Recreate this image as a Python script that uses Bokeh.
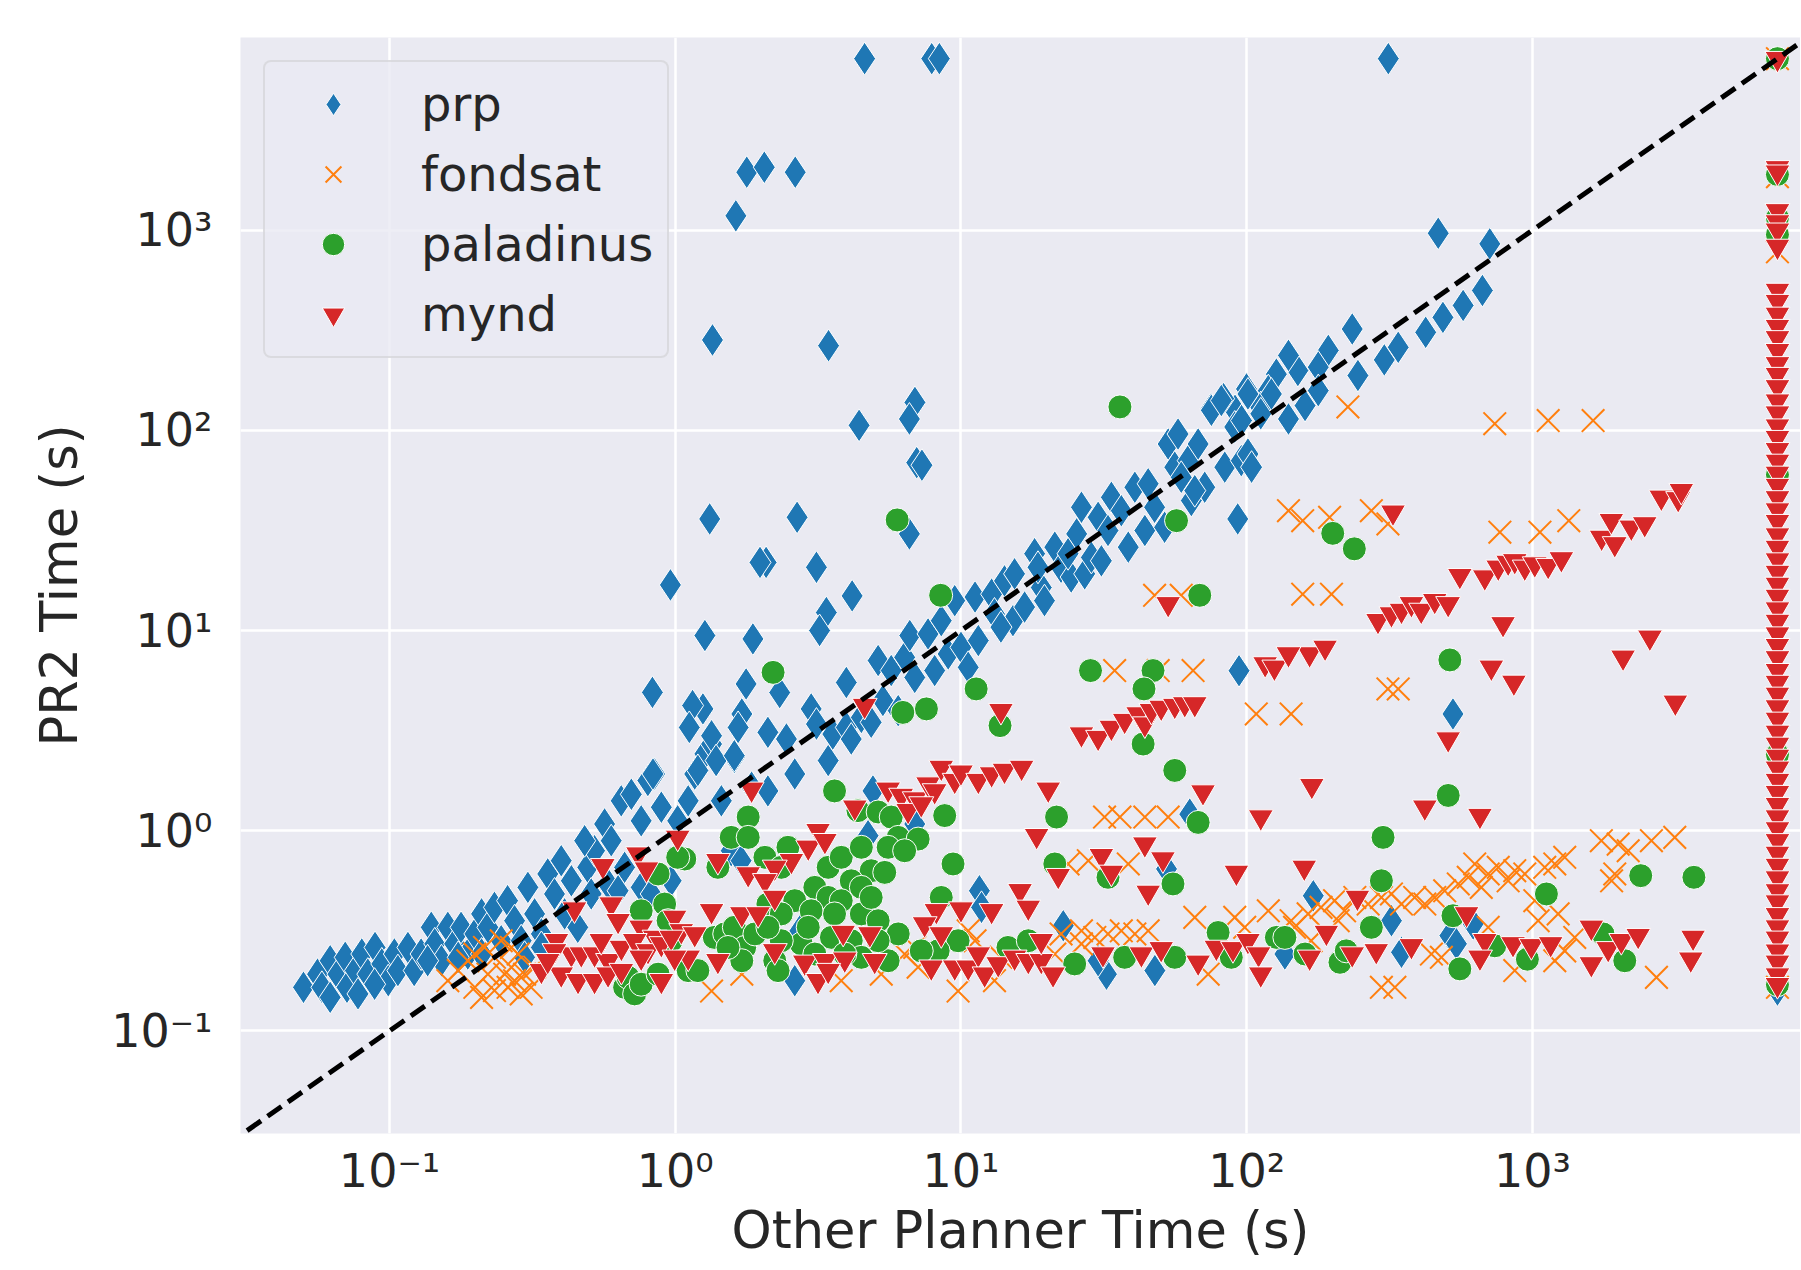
from bokeh.plotting import figure
from bokeh.models import Range1d, FixedTicker, CustomJSTickFormatter, Legend, LegendItem
from bokeh.embed import file_html
from bokeh.resources import INLINE

# ---------------- data (seconds) ----------------
TIMEOUT = 7200

prp_points = [
    (4.6, 7200), (7.9, 7200), (8.4, 7200), (313, 7200),
    (1.78, 1950), (2.05, 2065), (2.63, 1950), (1.63, 1180), (1.35, 283), (3.44, 265),
    (6.9, 138), (6.6, 114), (4.4, 106),
    (468, 966), (709, 855), (668, 500), (572, 421), (486, 367), (423, 309), (339, 260),
    (303, 225), (245, 188), (234, 321), (193, 251), (178, 207), (151, 199), (140, 237),
    (127, 191), (119, 158), (99.8, 161), (91, 126), (83, 144), (75, 128), (178, 158),
    (160, 133), (140, 114), (112, 130),
    (7.0, 69), (7.3, 67), (2.67, 36.8), (6.6, 30.4), (2.08, 21.9), (3.12, 20.7),
    (4.16, 14.9), (3.38, 12.3), (3.2, 10.0), (93, 36.1), (94, 6.3), (2.32, 4.9),
    (3.97, 5.5), (3.43, 2.24),
    (2.11, 3.10), (2.45, 2.87), (2.99, 4.06), (3.12, 3.41), (3.56, 3.04), (3.97, 3.28),
    (4.13, 2.87), (4.48, 3.68), (4.85, 3.48), (5.13, 7.08), (5.33, 4.47), (5.70, 6.31),
    (6.03, 3.98), (6.35, 7.35), (6.62, 9.44), (6.89, 5.83), (7.67, 9.62), (8.09, 6.31),
    (8.53, 11.2), (9.02, 7.64), (9.51, 14.1), (10.0, 8.24), (11.2, 14.7), (11.5, 8.91),
    (12.8, 15.2), (13.1, 12.1), (14.2, 17.7), (15.2, 11.2), (15.4, 19.2), (16.7, 13.1),
    (18.1, 24.2), (19.1, 16.4), (19.6, 14.1), (21.3, 26.1), (22.4, 20.7), (24.3, 18.5),
    (25.4, 30.4), (26.4, 41.3), (27.1, 19.2), (28.6, 23.2), (30.2, 36.8), (31.0, 22.3),
    (33.6, 46.3), (36.4, 39.7), (38.5, 26.1), (40.6, 52.0), (44.0, 31.6), (45.2, 54.1),
    (51.6, 32.8), (53.1, 85.5), (56.0, 65.5), (57.5, 95.9), (62.4, 70.6), (64.0, 44.6),
    (67.6, 85.5), (71.3, 52.0), (75.2, 126), (81.5, 141), (83.8, 65.5), (90.8, 104),
    (95.7, 70.6), (101, 152), (101, 76.2), (112, 121), (122, 152),
    (10.6, 6.55), (13.8, 10.4), (18.6, 20.7), (23.7, 24.2), (32.7, 31.6), (47.6, 41.3),
    (59.0, 58.3), (65.8, 50.0), (104, 65.5), (95.9, 112),
    (0.050, 0.165), (0.056, 0.192), (0.058, 0.165), (0.062, 0.147), (0.062, 0.224),
    (0.066, 0.192), (0.070, 0.233), (0.071, 0.165), (0.076, 0.200), (0.080, 0.242),
    (0.084, 0.192), (0.089, 0.261), (0.094, 0.216), (0.099, 0.178), (0.104, 0.242),
    (0.107, 0.200), (0.116, 0.261), (0.122, 0.200), (0.129, 0.242), (0.140, 0.329),
    (0.144, 0.272), (0.152, 0.224), (0.160, 0.329), (0.169, 0.272), (0.178, 0.329),
    (0.188, 0.242), (0.199, 0.305), (0.210, 0.384), (0.221, 0.329), (0.233, 0.414),
    (0.246, 0.282), (0.259, 0.447), (0.274, 0.355), (0.289, 0.282), (0.305, 0.521),
    (0.322, 0.384), (0.340, 0.305), (0.358, 0.608), (0.378, 0.483), (0.399, 0.708),
    (0.410, 0.384), (0.433, 0.562), (0.456, 0.329), (0.494, 0.656), (0.522, 0.794),
    (0.566, 1.08), (0.597, 0.891), (0.647, 1.41), (0.665, 0.656), (0.702, 1.52),
    (0.760, 1.12), (0.802, 1.78), (0.847, 1.92), (0.894, 1.31), (0.760, 0.521),
    (0.824, 0.483), (0.968, 0.562), (1.02, 1.12), (1.11, 1.41), (1.17, 1.92),
    (1.27, 2.42), (1.34, 2.71), (1.45, 1.41), (1.61, 2.32), (1.57, 0.794), (1.70, 0.708),
    (1.85, 1.65), (0.482, 0.891), (0.582, 0.542), (0.508, 0.483), (0.631, 0.501),
    (0.340, 0.261), (0.297, 0.233), (0.210, 0.242), (0.174, 0.233), (0.136, 0.224),
    (0.0887, 0.171), (0.0776, 0.153),
    (4.92, 1.58), (2.62, 1.92), (2.11, 1.58), (4.73, 0.944), (11.6, 0.501), (11.8, 0.414),
    (22.8, 0.335), (32.3, 0.192), (47.7, 0.200), (2.62, 0.178), (2.73, 0.316), (63.2, 1.21),
    (52.4, 0.644), (6.89, 1.08), (30.2, 0.224),
    (527, 3.83), (171, 0.473), (321, 0.355), (514, 0.299), (542, 0.272), (620, 0.342),
    (348, 0.247), (136, 0.242), (TIMEOUT, 0.16),
    (1.32, 36.1), (0.962, 16.9), (1.27, 9.44), (1.87, 9.08), (0.832, 4.91), (1.77, 5.41),
    (1.25, 4.06), (1.15, 4.22), (1.12, 3.28), (1.71, 3.83), (1.34, 2.98), (1.66, 3.28),
    (1.39, 2.24), (1.61, 2.37), (1.20, 2.0), (0.836, 1.92), (1.98, 21.9),
]

fondsat_points = [
    (0.160, 0.178), (0.174, 0.200), (0.188, 0.224), (0.199, 0.165), (0.210, 0.147),
    (0.199, 0.242), (0.215, 0.261), (0.221, 0.192), (0.233, 0.233), (0.246, 0.282),
    (0.253, 0.192), (0.260, 0.165), (0.267, 0.208), (0.274, 0.178), (0.282, 0.242),
    (0.289, 0.153), (0.297, 0.192), (0.313, 0.165), (0.322, 0.208), (0.233, 0.159),
    (0.267, 0.261), (1.34, 0.158), (1.71, 0.192),
    (3.81, 0.178), (5.26, 0.192), (6.35, 0.242), (6.89, 0.261), (7.08, 0.208), (9.77, 0.158),
    (10.6, 0.316), (11.2, 0.282), (13.1, 0.178), (13.8, 0.233), (16.3, 0.261), (21.3, 0.242),
    (22.4, 0.305), (26.4, 0.316), (29.4, 0.293), (32.7, 0.305), (36.4, 0.316), (40.6, 0.305),
    (45.2, 0.316), (23.7, 0.682), (27.9, 0.708), (38.5, 0.682), (31.8, 1.17), (36.0, 1.17),
    (44.0, 1.17), (53.1, 1.17), (65.8, 0.369), (73.3, 0.192), (90.8, 0.369), (98.4, 0.329),
    (119, 0.398), (26.4, 0.272),
    (143, 0.355), (164, 0.384), (182, 0.414), (203, 0.447), (220, 0.398), (239, 0.464),
    (266, 0.430), (296, 0.464), (321, 0.483), (348, 0.430), (387, 0.464), (420, 0.430),
    (455, 0.464), (493, 0.501), (550, 0.542), (596, 0.585), (628, 0.682), (662, 0.521),
    (700, 0.608), (759, 0.656), (822, 0.562), (867, 0.631), (940, 0.608), (1104, 0.656),
    (1197, 0.682), (1297, 0.736), (1047, 0.355), (1230, 0.384), (1019, 0.447), (1406, 0.293),
    (1297, 0.251), (1742, 0.891), (1995, 0.857), (2163, 0.794), (2608, 0.891), (3148, 0.926),
    (1892, 0.562), (1941, 0.608), (2716, 0.185), (296, 0.165), (330, 0.165), (443, 0.242),
    (480, 0.233), (867, 0.200), (1197, 0.224), (209, 0.355), (168, 0.282), (147, 0.329),
    (700, 0.329),
    (226, 131), (738, 108), (1135, 112), (1630, 112), (140, 39.7), (157, 35.4), (195, 36.8),
    (273, 39.7), (312, 34.1), (769, 31.0), (1062, 31.0), (1340, 35.4), (157, 15.2),
    (198, 15.2), (312, 5.11), (339, 5.11), (143, 3.83),
    (34.5, 6.31), (49.0, 6.31), (64.9, 6.31), (47.6, 15.0), (59.0, 15.0), (108, 3.83),
    (TIMEOUT, 7200), (TIMEOUT, 1850), (TIMEOUT, 780), (TIMEOUT, 0.165),
]

paladinus_points = [
    (0.760, 0.398), (0.918, 0.430), (0.871, 0.608), (1.08, 0.722), (1.02, 0.736),
    (1.41, 0.656), (1.80, 1.17), (1.57, 0.926), (1.80, 0.926), (0.665, 0.165),
    (0.684, 0.185), (0.721, 0.153), (0.760, 0.171), (1.11, 0.200), (1.20, 0.200),
    (1.37, 0.293), (1.49, 0.305), (1.61, 0.329), (1.75, 0.261), (1.90, 0.305),
    (1.71, 0.224), (0.968, 0.282), (0.944, 0.355), (1.53, 0.261), (0.871, 0.192),
    (3.61, 1.58), (4.36, 1.26), (5.13, 1.24), (5.70, 1.17), (6.03, 0.926), (7.08, 0.908),
    (5.56, 0.826), (8.77, 1.19), (9.38, 0.682), (8.53, 0.464), (2.48, 0.826), (2.06, 0.736),
    (2.35, 0.656), (3.43, 0.656), (3.81, 0.736), (4.48, 0.826), (4.85, 0.631), (5.41, 0.619),
    (4.13, 0.562), (3.08, 0.521), (2.62, 0.447), (3.43, 0.464), (3.81, 0.447), (4.48, 0.521),
    (2.11, 0.430), (2.35, 0.384), (2.99, 0.398), (3.61, 0.384), (4.48, 0.384), (5.13, 0.355),
    (6.03, 0.305), (3.52, 0.293), (4.13, 0.282), (2.76, 0.272), (2.35, 0.282), (2.11, 0.329),
    (5.56, 0.224), (4.48, 0.233), (3.92, 0.242), (3.08, 0.242), (2.23, 0.224), (2.29, 0.200),
    (9.77, 0.282), (8.32, 0.251), (14.6, 0.261), (17.2, 0.282), (25.0, 0.216), (37.4, 0.233),
    (56.0, 0.233), (79.4, 0.310), (88.3, 0.233), (127, 0.293), (21.3, 0.682), (32.7, 0.585),
    (55.2, 0.542), (21.6, 1.17), (67.6, 1.10), (56.0, 2.0), (43.4, 2.71), (6.35, 0.794),
    (4.85, 0.464), (2.92, 0.329), (5.13, 0.282), (7.26, 0.251),
    (36.0, 131), (5.98, 35.7), (56.8, 35.4), (8.49, 15.0), (68.5, 15.0), (2.20, 6.18),
    (28.4, 6.31), (47.0, 6.31), (43.7, 5.11), (11.3, 5.11), (6.26, 3.90), (7.57, 4.06),
    (13.7, 3.35),
    (200, 30.6), (238, 25.6), (514, 7.13),
    (507, 1.50), (300, 0.926), (296, 0.562), (1119, 0.483), (2393, 0.596), (3673, 0.585),
    (136, 0.293), (160, 0.242), (212, 0.220), (223, 0.251), (273, 0.329), (527, 0.376),
    (738, 0.266), (557, 0.204), (960, 0.228), (1766, 0.305), (2104, 0.224),
    (TIMEOUT, 7200), (TIMEOUT, 1900), (TIMEOUT, 1150), (TIMEOUT, 950), (TIMEOUT, 0.17),
    (TIMEOUT, 2.4), (TIMEOUT, 60),
]

mynd_points = [
    (0.558, 0.668), (0.741, 0.764), (0.793, 0.643), (1.02, 0.926), (1.41, 0.708),
    (1.85, 1.61), (0.444, 0.406), (0.597, 0.430), (0.631, 0.355), (0.760, 0.329),
    (0.847, 0.293), (0.995, 0.369), (1.05, 0.316), (1.17, 0.305), (1.34, 0.398),
    (1.71, 0.384), (1.95, 0.384), (0.384, 0.282), (0.433, 0.242), (0.469, 0.242),
    (0.522, 0.242), (0.582, 0.224), (0.648, 0.261), (0.721, 0.282), (0.803, 0.251),
    (0.894, 0.272), (0.968, 0.293), (1.11, 0.233), (1.41, 0.224), (0.894, 0.178),
    (0.340, 0.200), (0.399, 0.192), (0.457, 0.178), (0.522, 0.178), (0.582, 0.192),
    (0.648, 0.200), (0.378, 0.251), (0.760, 0.233), (0.995, 0.233), (1.80, 0.608),
    (0.358, 0.224), (0.551, 0.282),
    (4.25, 1.31), (5.56, 1.61), (6.18, 1.50), (6.89, 1.44), (7.67, 1.71), (8.09, 1.58),
    (8.53, 2.07), (9.51, 1.78), (10.0, 1.96), (11.5, 1.78), (12.8, 1.92), (14.2, 2.0),
    (16.3, 2.07), (6.53, 1.26), (7.26, 1.36), (20.2, 1.61), (18.4, 0.944), (70.3, 1.56),
    (112, 1.17), (44.0, 0.857), (31.0, 0.750), (33.6, 0.619), (50.9, 0.722), (21.9, 0.596),
    (45.2, 0.492), (92.0, 0.619), (16.1, 0.501), (17.2, 0.414), (12.8, 0.398), (10.0, 0.406),
    (8.20, 0.398), (7.46, 0.342), (8.53, 0.305), (3.16, 1.00), (2.92, 0.826), (2.55, 0.708),
    (2.23, 0.656), (3.34, 0.891), (2.06, 0.562), (2.23, 0.464), (3.87, 0.310), (4.80, 0.305),
    (2.23, 0.251), (2.84, 0.220), (3.34, 0.224), (3.92, 0.228), (4.99, 0.224), (3.16, 0.178),
    (3.43, 0.200), (7.87, 0.208), (9.51, 0.208), (10.6, 0.208), (11.5, 0.242), (12.1, 0.192),
    (13.5, 0.216), (15.4, 0.233), (17.2, 0.224), (19.1, 0.224), (21.0, 0.192), (19.1, 0.282),
    (31.4, 0.242), (42.8, 0.242), (50.2, 0.257), (67.6, 0.220), (78.3, 0.261), (89.5, 0.257),
    (101, 0.282), (110, 0.242), (112, 0.192),
    (4.60, 4.22), (13.8, 3.98), (53.1, 13.6), (26.4, 3.04), (30.2, 2.92), (33.6, 3.28),
    (37.4, 3.55), (41.7, 3.83), (44.0, 3.41), (46.4, 3.98), (50.2, 4.13), (56.0, 4.22),
    (60.7, 4.30), (65.8, 4.30), (116, 6.81), (125, 6.55),
    (325, 39.0), (288, 11.2), (321, 12.1), (348, 12.6), (377, 13.6), (408, 12.6), (455, 14.1),
    (507, 13.6), (557, 18.8), (681, 18.5), (759, 20.7), (822, 21.9), (867, 22.3), (940, 20.7),
    (1019, 21.5), (1135, 21.1), (1262, 22.8), (1746, 29.2), (1888, 35.4), (1941, 27.1),
    (2218, 32.8), (2471, 34.1), (2825, 46.3), (3236, 45.5), (3319, 50.0), (789, 10.8),
    (718, 6.55), (861, 5.51), (2576, 9.25), (2075, 7.35), (3162, 4.38), (507, 2.87),
    (166, 7.64), (140, 7.64), (188, 8.24),
    (169, 1.68), (420, 1.31), (655, 1.19), (159, 0.656), (244, 0.464), (190, 0.310),
    (166, 0.233), (234, 0.242), (284, 0.251), (377, 0.266), (588, 0.384), (681, 0.282),
    (655, 0.233), (855, 0.272), (991, 0.266), (1158, 0.272), (1607, 0.329), (1841, 0.257),
    (1607, 0.216), (2046, 0.282), (2344, 0.299), (3648, 0.293), (3581, 0.228),
]

# mynd runs where the other planner hit the timeout (other planner time = 7200 s)
mynd_timeout_pr2 = [
    7200, 2050, 1950, 1250, 1100, 1000, 830, 500, 440, 380, 330, 290, 250, 215, 190, 165,
    140, 122, 105, 92, 80, 70, 61, 53, 46, 40, 35, 30, 26, 22.5, 19.5, 17, 14.8, 12.8,
    11.1, 9.6, 8.4, 7.3, 6.3, 5.5, 4.8, 4.15, 3.6, 3.1, 2.7, 2.35, 2.05, 1.78, 1.55, 1.35,
    1.17, 1.02, 0.89, 0.77, 0.67, 0.58, 0.5, 0.44, 0.38, 0.33, 0.29, 0.25, 0.22, 0.19, 0.17,
]
mynd_points = mynd_points + [(TIMEOUT, v) for v in mynd_timeout_pr2]

series_names = ["prp", "fondsat", "paladinus", "mynd"]
series_colors = ["#1f77b4", "#ff7f0e", "#2ca02c", "#d62728"]
tick_values = [0.1, 1, 10, 100, 1000]
diag_values = [0.01, 20000]
x_title = "Other Planner Time (s)"
y_title = "PR2 Time (s)"

def unzip(points):
    return [a for a, b in points], [b for a, b in points]

# ---------------- figure ----------------
p = figure(
    width=1800, height=1269,
    x_axis_type="log", y_axis_type="log",
    x_range=Range1d(0.0301, 8670), y_range=Range1d(0.0307, 9183),
    output_backend="svg", toolbar_location=None,
    min_border_left=240, min_border_right=0, min_border_top=37, min_border_bottom=136,
    background_fill_color="#EAEAF2", border_fill_color="white", outline_line_color=None,
)

fmt = CustomJSTickFormatter(code="""
const sup = {"-": "\u207b", "0": "\u2070", "1": "\u00b9", "2": "\u00b2", "3": "\u00b3",
             "4": "\u2074", "5": "\u2075", "6": "\u2076", "7": "\u2077", "8": "\u2078", "9": "\u2079"};
const e = Math.round(Math.log10(tick));
return "10" + String(e).split("").map(c => sup[c]).join("");
""")

for ax in (p.xaxis[0], p.yaxis[0]):
    ax.ticker = FixedTicker(ticks=tick_values, minor_ticks=[])
    ax.formatter = fmt
    ax.axis_line_color = None
    ax.major_tick_line_color = None
    ax.minor_tick_line_color = None
    ax.major_tick_out = 0
    ax.major_tick_in = 0
    ax.major_label_text_font = "DejaVu Sans"
    ax.major_label_text_font_size = "46px"
    ax.major_label_text_color = "#262626"
    ax.axis_label_text_font = "DejaVu Sans"
    ax.axis_label_text_font_size = "51px"
    ax.axis_label_text_font_style = "normal"
    ax.axis_label_text_color = "#262626"

p.xaxis.axis_label = x_title
p.yaxis.axis_label = y_title
p.xaxis.major_label_standoff = 10
p.xaxis.axis_label_standoff = 0
p.yaxis.major_label_standoff = 28
p.yaxis.axis_label_standoff = 19

for g in (p.xgrid[0], p.ygrid[0]):
    g.grid_line_color = "white"
    g.grid_line_width = 2.5
    g.minor_grid_line_color = None

px, py = unzip(prp_points)
fx, fy = unzip(fondsat_points)
gx, gy = unzip(paladinus_points)
mx, my = unzip(mynd_points)

r_prp = p.scatter(px, py, marker="diamond", size=33, fill_color=series_colors[0],
                  line_color="white", line_width=1)
r_fond = p.scatter(fx, fy, marker="x", size=32, line_color=series_colors[1], line_width=2)
r_pal = p.scatter(gx, gy, marker="circle", size=24, fill_color=series_colors[2],
                  line_color="white", line_width=1)
r_mynd = p.scatter(mx, my, marker="inverted_triangle", size=25, fill_color=series_colors[3],
                   line_color="white", line_width=1)

p.line(diag_values, diag_values, line_color="black", line_width=5, line_dash="17 8")

legend = Legend(
    items=[LegendItem(label=n, renderers=[r]) for n, r in
           zip(series_names, [r_prp, r_fond, r_pal, r_mynd])],
    location="top_left", margin=23, padding=14, spacing=14,
    label_height=56, glyph_height=56, glyph_width=108, label_standoff=34,
    label_text_font="DejaVu Sans", label_text_font_size="48px", label_text_color="#262626",
    border_line_color="#CCCCCC", border_line_width=2,
    background_fill_color="#EAEAF2", background_fill_alpha=0.8,
)
if "border_radius" in Legend.properties():
    legend.border_radius = 8
p.add_layout(legend)

open("out.html", "w").write(file_html(p, INLINE))
